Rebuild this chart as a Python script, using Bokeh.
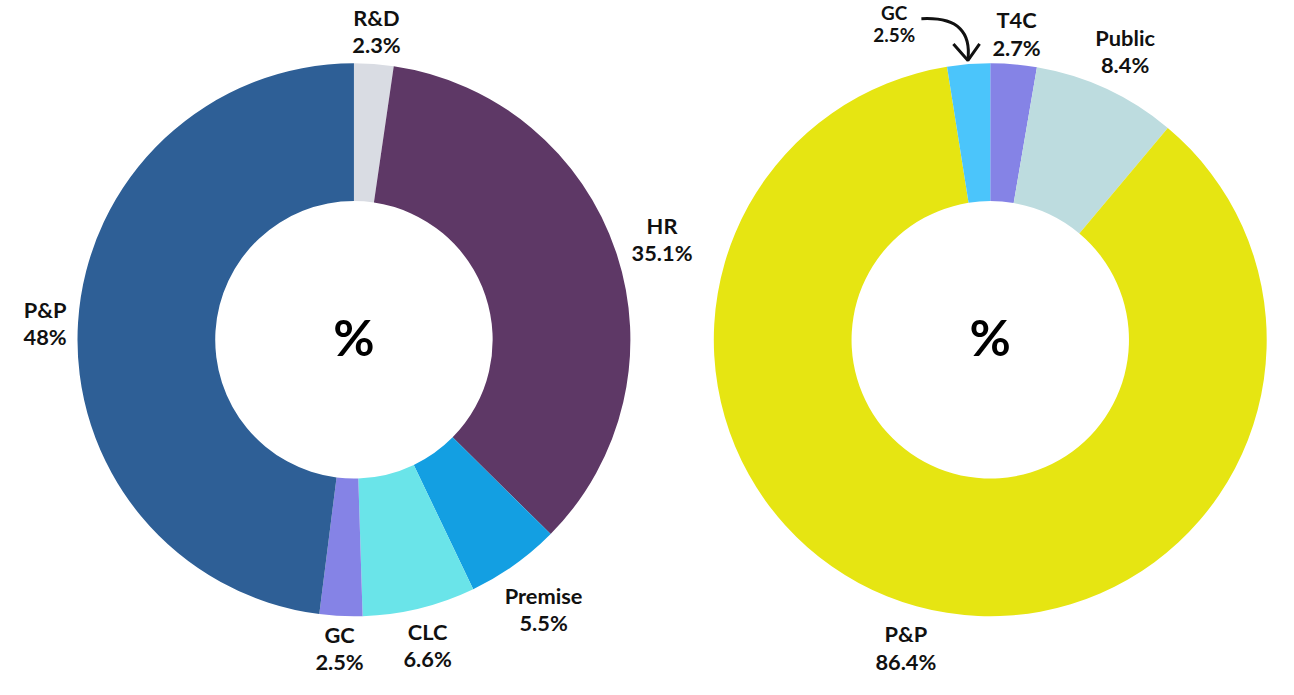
import math
from bokeh.plotting import figure
from bokeh.models import ColumnDataSource, Range1d
from bokeh.core.properties import value
from bokeh.embed import file_html
from bokeh.resources import INLINE

# ---------------- data ----------------
left_labels = ["R&D", "HR", "Premise", "CLC", "GC", "P&P"]
left_values = [2.3, 35.1, 5.5, 6.6, 2.5, 48]
left_colors = ["#d9dce3", "#5e3866", "#139fe2", "#6ae4e9", "#8583e6", "#2e5f96"]

right_labels = ["T4C", "Public", "P&P", "GC"]
right_values = [2.7, 8.4, 86.4, 2.5]
right_colors = ["#8583e6", "#bddcdf", "#e6e512", "#4bc5fb"]

center_text = "%"

# ---------------- layout ----------------
W, H = 1278, 679
S = 0.97           # overall layout scale so that everything fits the window
XSHIFT, YSHIFT = 12, 6
TEXT_DY = 3        # fine vertical nudge for text (px)


def sx(x):  # layout x (px from left) -> data x
    return S * x + XSHIFT


def sy(y):  # layout y (px from top) -> data y
    return H - (S * y - YSHIFT)


def px(v):
    return f"{v * S:.1f}px"


OUTER, INNER = 285 * S, 143 * S
left_center = (352, 356)
right_center = (1008, 356)
left_label_r = [322, 335, 337, 321, 315, 319]
right_label_r = [320, 331, 326, None]   # GC placed manually with an arrow
gc_label_pos = (909, 27)
LINE_GAP = 14

FONT = value("Lato")

p = figure(width=W, height=H, output_backend="svg", toolbar_location=None,
           x_range=Range1d(0, W), y_range=Range1d(0, H),
           x_axis_type=None, y_axis_type=None, min_border=0)
p.outline_line_color = None
p.grid.visible = False
p.background_fill_color = "white"
p.border_fill_color = "white"


def label(x, y, name, val, size, gap):
    p.text(x=[sx(x)], y=[sy(y - gap + TEXT_DY)], text=[name], text_align="center",
           text_baseline="middle", text_font=FONT, text_font_style="bold",
           text_font_size=px(size), text_color="#111111")
    p.text(x=[sx(x)], y=[sy(y + gap + TEXT_DY)], text=[val], text_align="center",
           text_baseline="middle", text_font=FONT, text_font_style="bold",
           text_font_size=px(size), text_color="#111111")


def donut(center, labels, values, colors, label_r):
    total = sum(values)
    cx, cy = center
    starts, ends, mids = [], [], []
    cum = 0.0
    for v in values:
        a0 = math.pi / 2 - 2 * math.pi * cum / total
        cum += v
        a1 = math.pi / 2 - 2 * math.pi * cum / total
        starts.append(a0)
        ends.append(a1)
        mids.append((a0 + a1) / 2)
    src = ColumnDataSource(dict(x=[sx(cx)] * len(values), y=[sy(cy)] * len(values),
                                start=starts, end=ends, color=colors))
    p.annular_wedge(x="x", y="y", inner_radius=INNER, outer_radius=OUTER,
                    start_angle="start", end_angle="end", direction="clock",
                    fill_color="color", line_color=None, source=src)
    for lab, v, m, r in zip(labels, values, mids, label_r):
        if r is None:
            continue
        lx = cx + r * math.cos(m)
        ly = cy - r * math.sin(m)
        label(lx, ly, lab, f"{v:g}%", 22.5, LINE_GAP)
    p.text(x=[sx(cx)], y=[sy(cy - 6 + TEXT_DY)], text=[center_text], text_align="center",
           text_baseline="middle", text_font=FONT, text_font_style="bold",
           text_font_size=px(52), text_color="#000000")


donut(left_center, left_labels, left_values, left_colors, left_label_r)
donut(right_center, right_labels, right_values, right_colors, right_label_r)

# manually placed GC label (right donut) with curved arrow
gi = right_labels.index("GC")
label(gc_label_pos[0], gc_label_pos[1], right_labels[gi],
      f"{right_values[gi]:g}%", 19.5, 11.5)

p.bezier(x0=[sx(937)], y0=[sy(25)], x1=[sx(985)], y1=[sy(67)],
         cx0=[sx(976)], cy0=[sy(23)], cx1=[sx(988)], cy1=[sy(40)],
         line_color="#111111", line_width=3)
p.multi_line(xs=[[sx(970), sx(985), sx(997)]], ys=[[sy(51), sy(68), sy(51)]],
             line_color="#111111", line_width=3)

open("out.html", "w").write(file_html(p, INLINE))
